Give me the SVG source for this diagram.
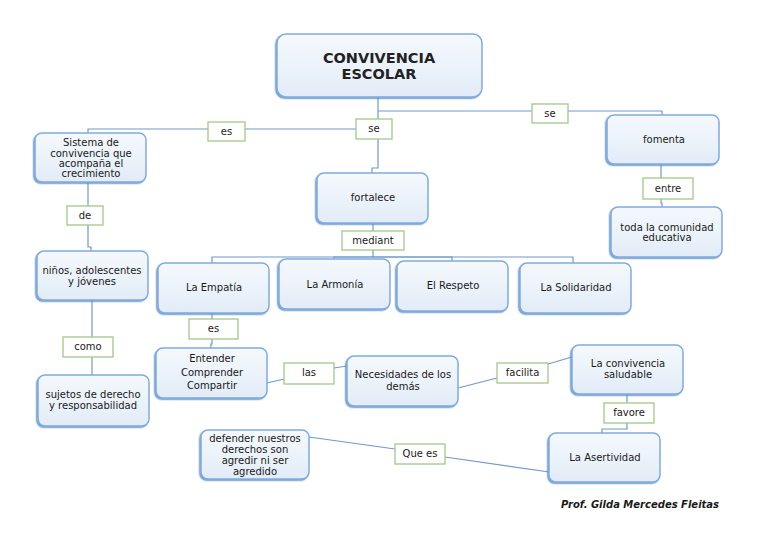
<svg xmlns="http://www.w3.org/2000/svg" width="768" height="543" viewBox="0 0 768 543">
<style>
.n{fill:url(#g);stroke:#80abde;stroke-width:1.5;filter:url(#sh)}
.l{fill:#fff;stroke:#a3c888;stroke-width:1.3}
.c{fill:none;stroke:#6f9acb;stroke-width:1.2}
text{font-family:"DejaVu Sans",Verdana,sans-serif;font-size:10px;fill:#1a1a1a;text-anchor:middle}
.t{font-size:14.5px;font-weight:bold;fill:#222}
.f{font-size:10px;font-weight:bold;font-style:italic;text-anchor:start}
</style>
<defs>
<linearGradient id="g" x1="0" y1="0" x2="0" y2="1">
<stop offset="0" stop-color="#f5f9fd"/>
<stop offset="1" stop-color="#e2ecf7"/>
</linearGradient>
<filter id="sh" x="-10%" y="-10%" width="120%" height="120%">
<feDropShadow dx="-1.3" dy="1.3" stdDeviation="0.4" flood-color="#4f86c6" flood-opacity="0.75"/>
</filter>
</defs>
<rect width="768" height="543" fill="#fff"/>

<g id="connectors">
<path class="c" d="M378 97 V168 H372 V173"/>
<path class="c" d="M378 111 H662 V115"/>
<path class="c" d="M378 129 H88 V133"/>
<path class="c" d="M88 182 V247 H91 V251"/>
<path class="c" d="M92 300 V375"/>
<path class="c" d="M661 164 V203 H662 V207"/>
<path class="c" d="M373 222 V257 H212 V263"/>
<path class="c" d="M373 257 H334 V259"/>
<path class="c" d="M373 257 H452 V261"/>
<path class="c" d="M373 257 H573 V263"/>
<path class="c" d="M212 313 V344 H211 V348"/>
<path class="c" d="M267 383 L284 379"/>
<path class="c" d="M334 368 L347 366"/>
<path class="c" d="M458 388 L497 378"/>
<path class="c" d="M548 364 L572 357"/>
<path class="c" d="M627 394 V429 H602 V433"/>
<path class="c" d="M549 472 L445 457"/>
<path class="c" d="M395 449 L309 437"/>
</g>

<g id="lbl-es1"><rect class="l" x="208" y="122" width="37" height="19"/><text x="226.5" y="135">es</text></g>
<g id="lbl-se1"><rect class="l" x="356" y="119" width="36" height="20"/><text x="374" y="132">se</text></g>
<g id="lbl-se2"><rect class="l" x="532" y="104" width="36" height="19"/><text x="550" y="117">se</text></g>
<g id="lbl-de"><rect class="l" x="67" y="206" width="36" height="19"/><text x="85" y="218.5">de</text></g>
<g id="lbl-como"><rect class="l" x="63" y="337" width="50" height="20"/><text x="88" y="350">como</text></g>
<g id="lbl-entre"><rect class="l" x="643" y="178" width="50" height="21"/><text x="668" y="192">entre</text></g>
<g id="lbl-mediant"><rect class="l" x="342" y="231" width="62" height="19"/><text x="373" y="244">mediant</text></g>
<g id="lbl-es2"><rect class="l" x="189" y="319" width="49" height="20"/><text x="213.5" y="332">es</text></g>
<g id="lbl-las"><rect class="l" x="284" y="363" width="50" height="21"/><text x="309" y="376">las</text></g>
<g id="lbl-facilita"><rect class="l" x="497" y="363" width="51" height="20"/><text x="522.5" y="376">facilita</text></g>
<g id="lbl-favore"><rect class="l" x="604" y="403" width="50" height="20"/><text x="629" y="416">favore</text></g>
<g id="lbl-quees"><rect class="l" x="395" y="444" width="50" height="20"/><text x="420" y="457">Que es</text></g>

<g id="n-main"><rect class="n" x="277" y="34" width="205" height="63" rx="9"/><text class="t" x="379" y="63">CONVIVENCIA</text><text class="t" x="379" y="79">ESCOLAR</text></g>
<g id="n-sistema"><rect class="n" x="35" y="133" width="111" height="49" rx="7"/>
<text x="91" y="146">Sistema de</text><text x="91" y="156.5">convivencia que</text><text x="91" y="166.5">acompaña el</text><text x="91" y="177">crecimiento</text></g>
<g id="n-ninos"><rect class="n" x="37" y="251" width="111" height="49" rx="7"/><text x="92" y="274">niños, adolescentes</text><text x="92" y="285">y jóvenes</text></g>
<g id="n-sujetos"><rect class="n" x="38" y="375" width="111" height="51" rx="7"/><text x="93" y="398">sujetos de derecho</text><text x="93" y="409">y responsabilidad</text></g>
<g id="n-fomenta"><rect class="n" x="607" y="115" width="112" height="49" rx="7"/><text x="664" y="143">fomenta</text></g>
<g id="n-toda"><rect class="n" x="611" y="207" width="111" height="50" rx="7"/><text x="667" y="231">toda la comunidad</text><text x="667" y="241">educativa</text></g>
<g id="n-fortalece"><rect class="n" x="317" y="173" width="111" height="50" rx="7"/><text x="373" y="201">fortalece</text></g>
<g id="n-empatia"><rect class="n" x="158" y="263" width="111" height="50" rx="7"/><text x="214" y="291">La Empatía</text></g>
<g id="n-armonia"><rect class="n" x="279" y="259" width="111" height="50" rx="7"/><text x="335" y="288">La Armonía</text></g>
<g id="n-respeto"><rect class="n" x="397" y="261" width="111" height="50" rx="7"/><text x="453" y="289">El Respeto</text></g>
<g id="n-solidaridad"><rect class="n" x="520" y="263" width="111" height="50" rx="7"/><text x="576" y="291">La Solidaridad</text></g>
<g id="n-entender"><rect class="n" x="156" y="348" width="111" height="50" rx="7"/><text x="212" y="362">Entender</text><text x="212" y="375.5">Comprender</text><text x="212" y="389">Compartir</text></g>
<g id="n-necesidades"><rect class="n" x="347" y="356" width="111" height="50" rx="7"/><text x="403" y="378">Necesidades de los</text><text x="403" y="390">demás</text></g>
<g id="n-saludable"><rect class="n" x="572" y="345" width="111" height="49" rx="7"/><text x="628" y="367">La convivencia</text><text x="628" y="377.5">saludable</text></g>
<g id="n-asertividad"><rect class="n" x="549" y="433" width="111" height="49" rx="7"/><text x="605" y="461">La Asertividad</text></g>
<g id="n-defender"><rect class="n" x="201" y="430" width="108" height="49" rx="7"/><text x="255" y="442">defender nuestros</text><text x="255" y="453">derechos son</text><text x="255" y="464">agredir ni ser</text><text x="255" y="474.5">agredido</text></g>

<text class="f" x="561" y="508">Prof. Gilda Mercedes Fleitas</text>
</svg>
